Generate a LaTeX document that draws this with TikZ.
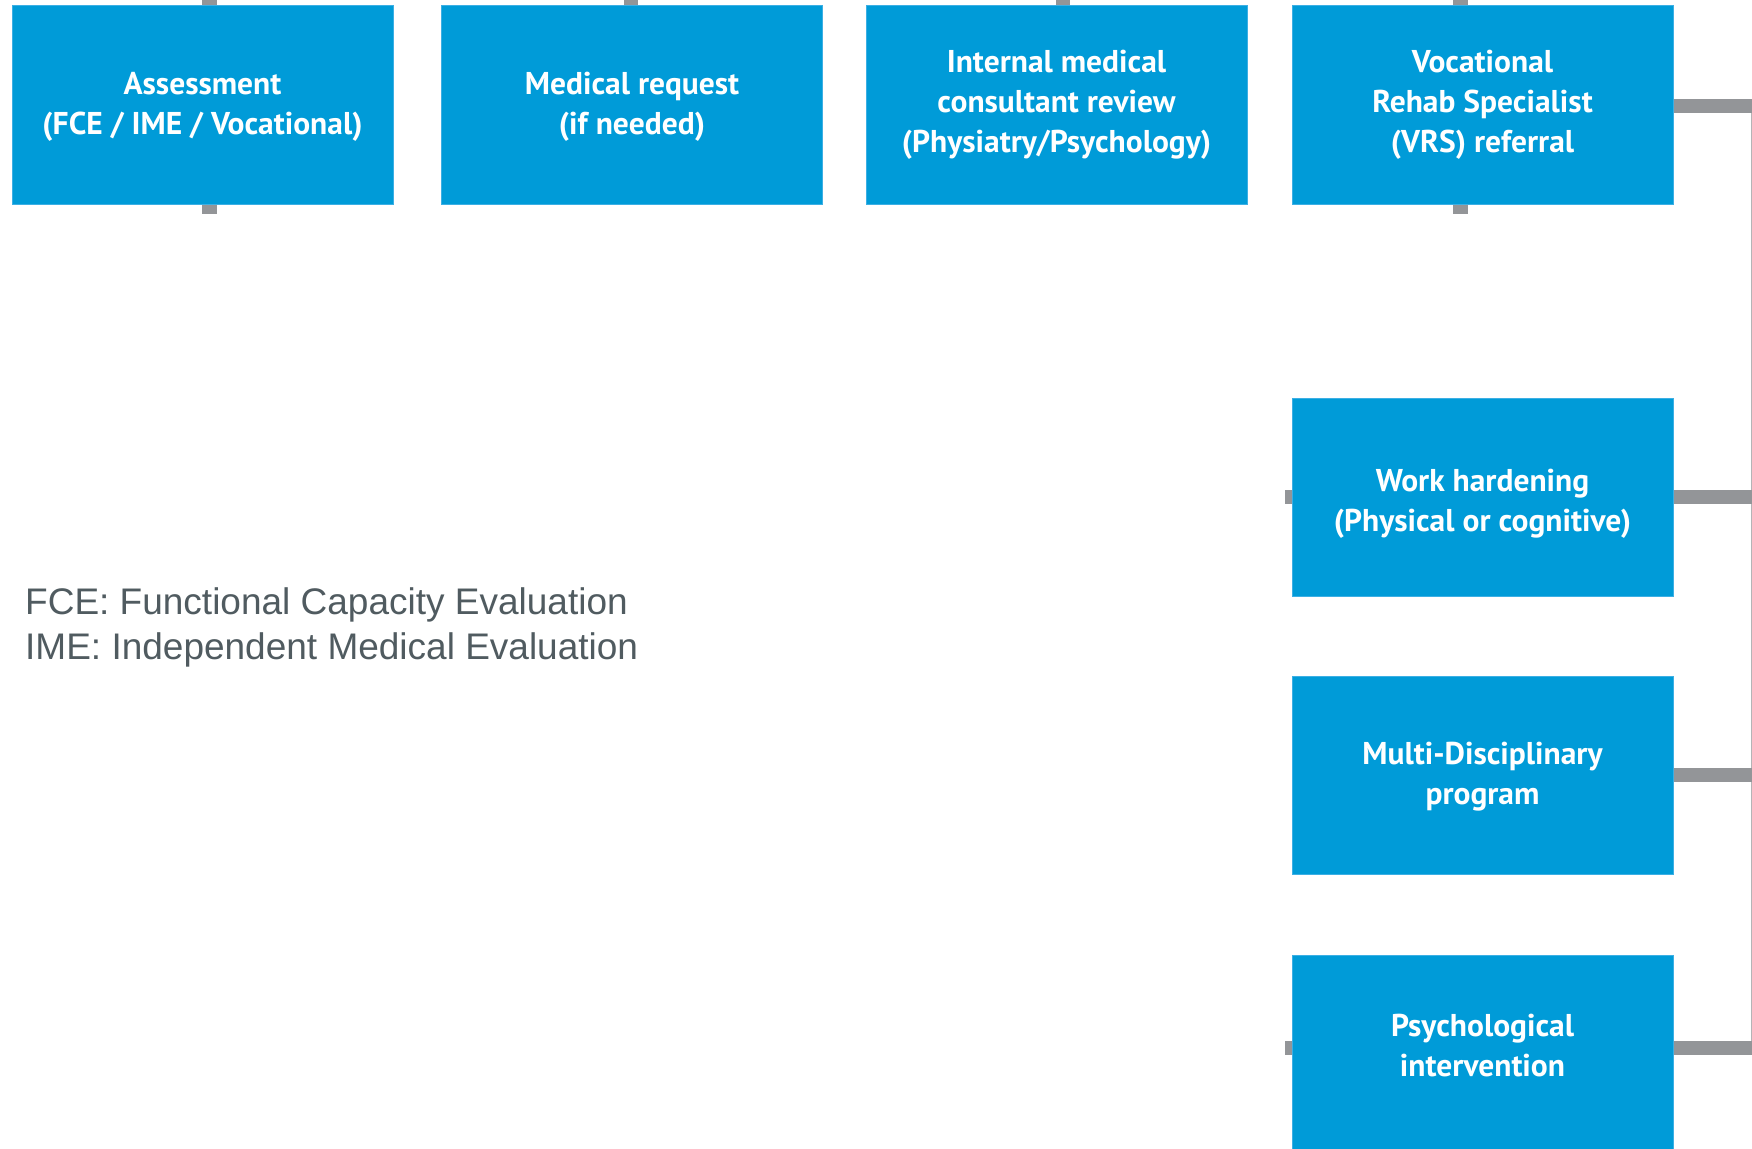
\documentclass[tikz,border=0pt]{standalone}
\usepackage{fontspec}
\setmainfont{Liberation Sans}
\newfontfamily\boxfont{PT Sans}
\usetikzlibrary{calc}
\definecolor{boxblue}{RGB}{0,155,216}
\definecolor{boxedge}{RGB}{60,175,228}
\definecolor{linkgray}{RGB}{147,149,152}
\definecolor{railgray}{RGB}{180,180,182}
\definecolor{notegray}{RGB}{80,91,96}
\tikzset{
  boxtext/.style={text=white, align=center, inner sep=0pt,
    font=\boxfont\bfseries\fontsize{31.5}{40}\selectfont},
  stepbox/.style={rectangle, fill=boxblue, draw=boxedge, line width=1pt,
    minimum width=381pt, minimum height=198pt, inner sep=0pt, boxtext},
  link/.style={draw=linkgray, line width=14.5pt},
  rail/.style={draw=railgray, line width=1.2pt},
  note/.style={anchor=base west, inner sep=0pt, text=notegray,
    font=\fontsize{37}{45}\selectfont}
}
\begin{document}
\begin{tikzpicture}[x=1pt,y=-1pt]
\useasboundingbox (0,0) rectangle (1752,1148);
\fill[white] (0,0) rectangle (1752,1148);

% free ends of the connectors at the page border
\coordinate (ta) at (209.5,0);
\coordinate (tb) at (631,0);
\coordinate (tc) at (1063,0);
\coordinate (td) at (1460.5,0);
\coordinate (rx) at (1752,0);
\coordinate (lx) at (1285,0);

% vertical rail on the right
\draw[rail] (1751.3,106) coordinate (r1) -- (1751.3,1048) coordinate (r2);

% top row
\node[stepbox] (A) at (202.5,105) {};
\node[boxtext] (At) at (202.5,107) {Assessment\\(FCE / IME / Vocational)};
\node[stepbox] (B) at (632,105) {};
\node[boxtext] (Bt) at (632,107) {Medical request\\(if needed)};
\node[stepbox] (C) at (1056.5,105) {Internal medical\\consultant review\\(Physiatry/Psychology)};
\node[stepbox] (D) at (1482.5,105) {Vocational\\Rehab Specialist\\(VRS) referral};

% right column
\node[stepbox] (W) at (1482.5,497) {};
\node[boxtext] (Wt) at (1482.5,504) {Work hardening\\(Physical or cognitive)};
\node[stepbox] (M) at (1482.5,775) {};
\node[boxtext] (Mt) at (1482.5,777) {Multi-Disciplinary\\program};
\node[stepbox, minimum height=220pt] (P) at (1482.5,1065) {};
\node[boxtext] (Pt) at (1482.5,1046) {Psychological\\intervention};

% stubs above the top row
\draw[link] (ta) -- (ta |- A.north);
\draw[link] (tb) -- (tb |- B.north);
\draw[link] (tc) -- (tc |- C.north);
\draw[link] (td) -- (td |- D.north);
% stubs below
\draw[link] (ta |- A.south) -- ++(0,9);
\draw[link] (td |- D.south) -- ++(0,9);

% connectors to the rail
\draw[link] (D.east) ++(0,1) -- (rx |- 0,106);
\draw[link] (W.east) -- (W.east -| rx);
\draw[link] (M.east) -- (M.east -| rx);
\draw[link] (P.east |- 0,1048) -- (rx |- 0,1048);
% left stubs
\draw[link] (W.west) -- (W.west -| lx);
\draw[link] (P.west |- 0,1048) -- (lx |- 0,1048);

% abbreviations
\node[note] (n1) at (25,614) {FCE: Functional Capacity Evaluation};
\node[note] (n2) at (25,659) {IME: Independent Medical Evaluation};
\end{tikzpicture}
\end{document}
